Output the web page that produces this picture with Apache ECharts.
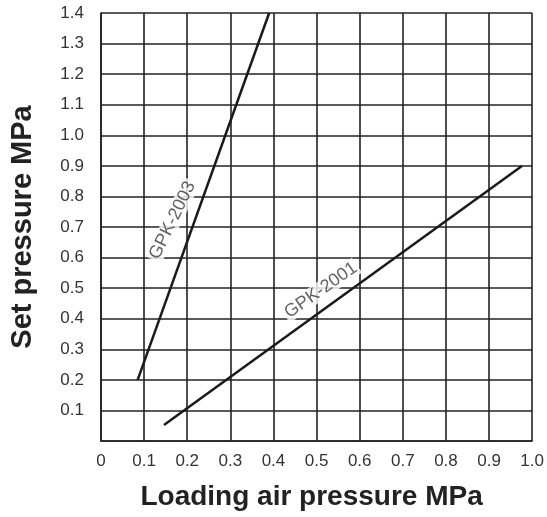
<!DOCTYPE html>
<html>
<head>
<meta charset="utf-8">
<script src="https://cdn.jsdelivr.net/npm/echarts@6/dist/echarts.min.js"></script>
<style>
html,body{margin:0;padding:0;background:#fff;}
#chart{width:547px;height:517px;}
</style>
</head>
<body>
<div id="chart"></div>
<script>
const xTickLabels = ['0','0.1','0.2','0.3','0.4','0.5','0.6','0.7','0.8','0.9','1.0'];
const yTickLabels = ['','0.1','0.2','0.3','0.4','0.5','0.6','0.7','0.8','0.9','1.0','1.1','1.2','1.3','1.4'];
const gpk2003X = [0.085, 0.39];
const gpk2003Y = [0.2, 1.4];
const gpk2001X = [0.146, 0.977];
const gpk2001Y = [0.052, 0.90];
const seriesNames = ['GPK-2003', 'GPK-2001'];
const labelX = [0.166, 0.51];
const labelY = [0.722, 0.493];
const labelAngle = [64, 35];

const FONT = "'Liberation Sans', Arial, Helvetica, sans-serif";
const GRID = '#222';

const chart = echarts.init(document.getElementById('chart'), null, {renderer: 'canvas'});

function pairs(xs, ys){ return xs.map((x, i) => [x, ys[i]]); }

const lineSeries = [
  {name: seriesNames[0], type: 'line', data: pairs(gpk2003X, gpk2003Y), symbol: 'none',
   lineStyle: {color: '#1a1a1a', width: 2.5}, z: 3, silent: true},
  {name: seriesNames[1], type: 'line', data: pairs(gpk2001X, gpk2001Y), symbol: 'none',
   lineStyle: {color: '#1a1a1a', width: 2.5}, z: 3, silent: true}
];

const labelSeries = seriesNames.map((n, i) => ({
  type: 'scatter', symbolSize: 0, z: 2, silent: true,
  data: [[labelX[i], labelY[i]]],
  label: {
    show: true, position: 'inside', formatter: n, rotate: labelAngle[i],
    fontFamily: FONT, fontSize: 18, color: '#3a3a3a',
    backgroundColor: '#fff', padding: [0, 2]
  }
}));

chart.setOption({
  animation: false,
  backgroundColor: '#fff',
  grid: {left: 100, right: 12, top: 13, bottom: 76, containLabel: false},
  xAxis: {
    type: 'value', min: 0, max: 1.0, interval: 0.1,
    name: 'Loading air pressure MPa', nameLocation: 'middle', nameGap: 42,
    nameTextStyle: {fontFamily: FONT, fontSize: 28, fontWeight: 'bold', color: '#222', padding: [0, 10, 0, 0]},
    axisLine: {show: true, lineStyle: {color: GRID, width: 1.6}},
    axisTick: {show: false},
    axisLabel: {margin: 12, fontFamily: FONT, fontSize: 17, color: '#333',
      formatter: (v, i) => xTickLabels[Math.round(v * 10)]},
    splitLine: {show: true, showMinLine: true, showMaxLine: true, lineStyle: {color: GRID, width: 1.6}}
  },
  yAxis: {
    type: 'value', min: 0, max: 1.4, interval: 0.1,
    name: 'Set pressure MPa', nameLocation: 'middle', nameGap: 64,
    nameTextStyle: {fontFamily: FONT, fontSize: 29, fontWeight: 'bold', color: '#222'},
    axisLine: {show: true, lineStyle: {color: GRID, width: 1.6}},
    axisTick: {show: false},
    axisLabel: {margin: 17, fontFamily: FONT, fontSize: 17, color: '#333',
      formatter: (v, i) => yTickLabels[Math.round(v * 10)]},
    splitLine: {show: true, showMinLine: true, showMaxLine: true, lineStyle: {color: GRID, width: 1.6}}
  },
  series: lineSeries.concat(labelSeries)
});
</script>
</body>
</html>
